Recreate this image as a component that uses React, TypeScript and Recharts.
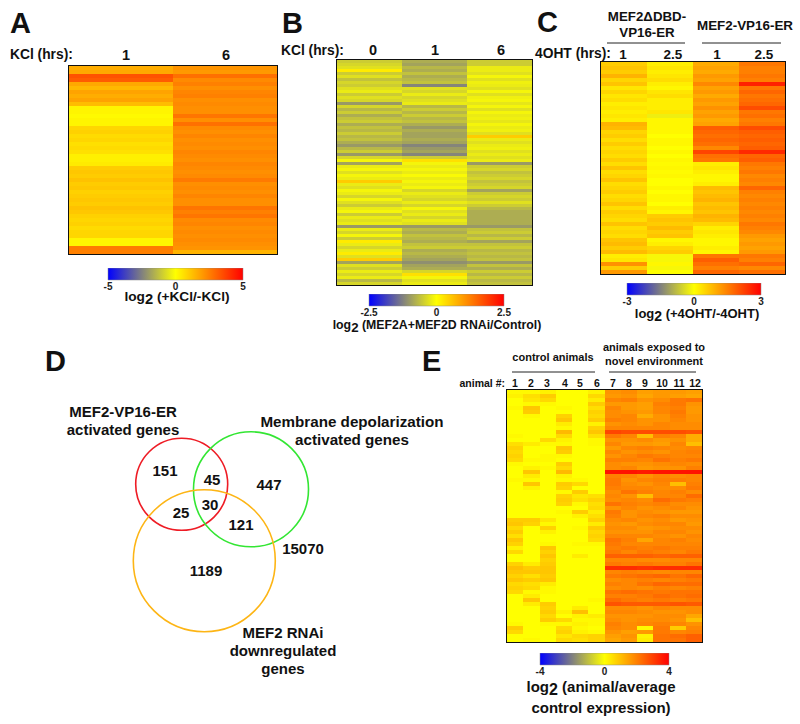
import React from "react"
import { Bar, BarChart, Cell, Scatter, ScatterChart, XAxis, YAxis } from "recharts"

const FONT = "'Liberation Sans', Arial, sans-serif"

// log2 ratios, one list per heatmap row
const heatA = [
  [1.6, 2.1], [1.7, 2.0], [3.4, 2.8], [3.2, 2.3], [1.7, 2.5], [1.4, 2.2], [1.8, 2.4], [1.6, 2.5], [1.8, 2.2], [1.3, 2.3],
  [0.2, 2.2], [0.2, 2.2], [0.1, 2.7], [0.2, 2.2], [0.2, 2.8], [0.8, 2.3], [0.9, 2.2], [0.7, 2.4], [0.8, 2.2], [0.6, 2.3],
  [0.7, 2.2], [0.6, 2.4], [0.3, 2.3], [0.3, 2.2], [0.4, 2.4], [1.0, 2.3], [1.1, 2.2], [1.0, 2.3], [1.2, 2.6], [1.0, 2.2],
  [1.1, 2.3], [0.9, 2.2], [1.0, 2.4], [1.1, 2.2], [1.0, 2.2], [1.2, 2.7], [1.1, 2.5], [0.9, 2.7], [0.8, 2.3], [0.9, 2.4],
  [0.7, 2.2], [0.8, 2.3], [0.8, 2.2], [0.2, 2.3], [0.2, 2.2], [2.6, 2.1], [2.5, 1.5],
]

const heatB = [
  [-0.5, -0.8, -0.5], [-0.4, -0.9, -0.5], [-0.3, -0.7, -0.2], [0.2, -0.8, -0.2], [-0.5, -0.6, -0.3], [-0.3, -0.8, -0.1], [-0.6, -0.7, -0.3], [-0.4, -0.6, -0.15], [-0.5, -1.2, -0.2], [-0.3, -0.3, -0.3],
  [-0.2, -0.4, -0.1], [-0.5, -0.2, -0.3], [-0.3, -0.4, -0.15], [-0.4, -0.3, -0.1], [-1.0, -0.2, -0.25], [-0.4, -0.7, -0.1], [-0.7, -0.5, -0.3], [-0.5, -0.7, -0.1], [-0.8, -0.5, -0.2], [-0.6, -0.7, -0.15],
  [-0.5, -0.6, -0.25], [-0.8, -0.8, -0.1], [-0.6, -1.0, -0.2], [-0.7, -0.8, -0.15], [-0.5, -0.9, -0.3], [-0.7, -0.9, 0.5], [-0.6, -0.8, -0.2], [-0.8, -0.9, -0.3], [-1.0, -1.2, -0.2], [-0.7, -1.0, -0.15],
  [-0.5, -0.9, -0.3], [-1.0, -1.2, -0.2], [-0.4, -0.5, -0.3], [-0.1, 0.3, -0.2], [-0.9, -0.1, -1.0], [-0.2, -0.2, -0.5], [-0.1, -0.1, -0.4], [-0.3, -0.2, -0.6], [-0.1, -0.05, -0.5], [-0.2, -0.2, -0.4],
  [0.5, -0.1, -0.6], [-0.2, -0.2, -0.5], [-0.3, -0.1, -0.4], [-0.1, -0.4, -0.9], [-0.2, -0.2, -0.5], [-0.4, -0.3, -0.4], [-0.1, -0.4, -0.5], [-0.3, -0.2, -0.3], [-0.5, -0.4, -0.5], [-0.2, -0.1, -0.7],
  [-0.1, -0.3, -0.8], [-0.5, -0.2, -0.8], [-0.2, -0.4, -0.8], [-0.3, -0.2, -0.8], [-0.2, -0.3, -0.8], [-1.0, -1.0, -1.0], [-0.2, -0.7, -0.6], [-0.4, -0.8, -0.5], [-0.1, -0.6, -0.7], [-0.5, -0.7, -0.5],
  [0.2, -0.8, -0.9], [-0.2, -0.6, -0.6], [-0.4, -0.5, -0.5], [-0.2, -0.8, -0.7], [0.2, -0.7, -0.6], [-0.3, -0.8, -0.7], [0.5, -0.9, -0.6], [-0.9, -1.1, -1.0], [-0.3, -0.9, -0.6], [-0.5, -0.8, -0.8],
  [-0.2, -0.4, -0.5], [-0.4, 0.3, -0.7], [-0.2, -0.1, -0.5], [-0.7, -0.3, -0.7], [-0.4, -0.2, -0.6],
]

const heatC = [
  [0.6, 0.2, 1.0, 1.6], [0.7, 0.3, 1.1, 1.5], [0.6, 0.2, 1.0, 1.5], [0.9, 0.3, 1.2, 1.6], [0.5, 0.4, 1.1, 1.5],
  [0.7, 0.2, 1.4, 2.6], [0.3, 0.1, 1.1, 1.6], [0.5, 0.3, 1.2, 1.8], [0.3, 0.4, 1.0, 1.6], [0.4, 0.2, 1.2, 1.7],
  [0.2, 0.2, 1.1, 1.8], [0.3, 0.2, 1.3, 2.1], [0.2, 0.3, 1.1, 1.6], [0.3, -0.2, 1.2, 1.7], [0.2, 0.1, 1.0, 1.5],
  [0.9, 0.1, 1.1, 1.6], [0.8, 0.1, 1.9, 2.1], [0.5, 0.1, 1.8, 1.9], [0.6, 0.0, 1.7, 1.8], [0.4, 0.1, 1.8, 1.9],
  [0.6, 0.1, 1.7, 1.8], [0.4, 0.0, 1.4, 1.9], [0.5, 0.1, 2.2, 2.5], [0.4, 0.0, 1.7, 1.8], [0.6, 0.1, 1.6, 1.9],
  [0.4, 0.05, 0.2, 1.6], [0.7, 0.1, 0.3, 1.5], [0.4, 0.05, 0.2, 1.6], [0.5, 0.1, 0.1, 1.4], [0.7, 0.0, 0.1, 1.5],
  [0.4, 0.0, 0.2, 1.4], [0.5, 0.1, 0.8, 1.8], [0.6, 0.0, 0.7, 1.5], [0.4, 0.1, 0.8, 1.4], [0.5, 0.1, 0.9, 1.5],
  [0.7, 0.0, 0.7, 1.4], [0.4, 0.2, 0.8, 1.5], [0.6, 0.1, 0.7, 1.4], [0.5, 0.6, 0.9, 1.5], [0.4, 0.7, 0.8, 1.4],
  [0.7, 0.6, 0.5, 1.6], [0.4, 0.8, 0.2, 1.5], [0.5, 0.6, 0.3, 1.4], [0.4, 0.7, 0.2, 1.2], [0.7, 0.1, 0.1, 1.1],
  [0.8, 0.2, 0.1, 1.2], [0.6, 0.5, 0.2, 1.1], [0.8, 0.6, 0.1, 1.2], [0.2, -0.1, 1.6, 1.6],
  [0.3, -0.1, 1.9, 1.5], [1.3, 0.1, 1.7, 1.8], [0.6, -0.1, 1.5, 1.4], [1.2, 0.0, 1.8, 1.7],
]

const heatE = [
  [0.1, 0.1, 0.2, 0.0, 0.0, 0.2, 1.7, 1.8, 1.5, 1.6, 1.6, 1.5],
  [0.2, 0.5, 0.8, 0.0, 0.0, 0.6, 1.6, 1.7, 1.4, 1.6, 1.5, 1.4],
  [0.0, 0.4, 0.6, 0.0, 0.0, 0.3, 1.9, 2.0, 1.7, 1.8, 2.1, 2.2],
  [0.0, 0.1, 0.1, 0.0, 0.0, 0.8, 1.6, 1.6, 1.5, 2.0, 2.1, 1.7],
  [0.1, 0.9, 0.0, 0.1, 0.0, 0.5, 1.9, 1.6, 1.5, 1.9, 2.0, 1.6],
  [0.0, 0.8, 0.0, 0.0, 0.0, 0.7, 1.8, 1.7, 1.6, 1.9, 2.1, 1.6],
  [0.0, 0.1, 0.0, 0.7, 0.0, 0.6, 1.8, 1.9, 1.3, 1.7, 2.0, 1.7],
  [0.0, 0.0, 0.0, 0.9, 0.0, 0.8, 2.0, 1.9, 1.7, 1.7, 1.9, 1.7],
  [0.0, 0.0, 0.0, 0.3, 0.0, 0.2, 1.7, 1.8, 1.7, 1.9, 1.8, 1.8],
  [0.0, 0.0, 0.0, 0.1, 0.0, 0.7, 1.9, 1.9, 1.9, 1.9, 1.8, 1.8],
  [0.0, 0.0, 0.0, 1.1, 0.0, 0.9, 2.9, 2.8, 2.8, 2.8, 2.8, 2.7],
  [0.1, 0.0, 0.0, 0.6, 0.0, 0.5, 2.1, 1.9, 1.0, 2.0, 1.9, 1.3],
  [0.0, 0.0, 0.6, 0.2, 0.0, 0.1, 1.7, 1.7, 1.8, 1.6, 1.7, 1.3],
  [0.5, 0.3, 0.1, 0.1, 0.0, 0.1, 1.9, 1.6, 1.6, 1.5, 1.9, 1.0],
  [0.7, 0.0, 0.0, 0.9, 0.0, 0.0, 1.6, 1.9, 2.0, 1.9, 1.8, 1.9],
  [0.6, 0.0, 0.0, 0.8, 0.0, 0.0, 1.9, 1.7, 1.8, 1.7, 1.9, 2.0],
  [0.7, 0.0, 0.1, 0.1, 0.0, 0.0, 1.7, 1.9, 2.1, 2.0, 1.9, 1.9],
  [0.6, 0.1, 0.1, 0.0, 0.0, 0.0, 2.0, 2.0, 1.9, 2.2, 2.0, 2.1],
  [0.1, 0.0, 0.0, 0.8, 0.0, 0.0, 1.8, 1.7, 1.7, 1.8, 1.9, 1.8],
  [0.0, 0.2, 0.1, 0.6, 0.0, 0.0, 1.8, 1.9, 1.6, 1.7, 1.7, 2.0],
  [0.0, 0.9, 0.0, 1.1, 0.0, 0.0, 3.7, 3.7, 3.6, 3.7, 3.7, 3.7],
  [0.0, 0.3, 0.0, 0.2, 0.0, 0.0, 2.0, 1.9, 1.7, 1.9, 1.8, 1.9],
  [0.1, 0.1, 0.0, 0.1, 0.1, 0.0, 2.1, 1.7, 1.9, 2.0, 2.0, 1.9],
  [0.0, 0.9, 0.0, 0.8, 0.6, 0.0, 2.1, 1.8, 1.7, 1.9, 1.0, 2.0],
  [0.0, 0.2, 0.0, 0.7, 0.0, 0.0, 2.0, 1.9, 1.9, 1.8, 1.8, 2.1],
  [0.0, 0.0, 0.0, 0.1, 0.8, 0.0, 1.8, 2.2, 2.0, 1.9, 2.0, 1.8],
  [0.0, 0.0, 0.0, 0.7, 0.4, 0.5, 1.9, 1.7, 1.0, 1.9, 1.9, 2.3],
  [0.0, 0.0, 0.0, 0.8, 0.5, 0.7, 1.8, 1.9, 1.8, 2.3, 2.1, 2.0],
  [0.0, 0.0, 0.0, 0.7, 0.1, 0.5, 2.2, 2.0, 1.9, 2.0, 1.8, 1.8],
  [0.0, 0.0, 0.0, 0.0, 0.0, 0.6, 1.7, 1.9, 1.7, 1.8, 1.9, 1.7],
  [0.0, 0.0, 0.0, 0.1, 0.8, 0.3, 2.1, 1.7, 1.8, 1.7, 1.6, 1.6],
  [0.0, 0.0, 0.0, 0.0, 0.2, 0.5, 2.0, 1.7, 1.9, 2.0, 1.8, 1.8],
  [0.8, 0.8, 0.4, 0.0, 0.0, 0.7, 1.8, 1.9, 1.7, 1.8, 1.6, 1.7],
  [0.9, 0.7, 0.1, 0.0, 0.0, 0.3, 1.7, 1.6, 1.8, 1.9, 1.9, 1.6],
  [0.6, 0.0, 0.7, 0.0, 0.1, 0.8, 1.8, 1.8, 1.6, 1.7, 1.8, 1.8],
  [0.8, 0.0, 0.2, 0.0, 0.0, 0.6, 1.7, 1.7, 1.7, 1.9, 1.9, 1.7],
  [0.5, 0.0, 0.0, 0.0, 0.0, 0.7, 1.9, 1.9, 1.9, 1.8, 1.7, 1.9],
  [0.9, 0.0, 0.0, 0.0, 0.0, 0.6, 2.2, 2.0, 1.4, 1.9, 2.0, 1.8],
  [0.7, 0.0, 0.1, 0.0, 0.1, 0.1, 2.1, 1.9, 1.9, 1.9, 1.9, 1.9],
  [0.2, 0.0, 0.9, 0.0, 0.0, 0.0, 2.0, 2.1, 2.0, 2.1, 2.0, 2.0],
  [0.6, 0.0, 0.7, 0.0, 0.0, 0.0, 2.1, 1.9, 2.1, 2.0, 1.9, 2.1],
  [0.0, 0.0, 0.9, 0.0, 0.3, 0.0, 2.5, 2.5, 2.5, 2.4, 2.5, 2.5],
  [0.0, 0.0, 0.7, 0.0, 0.0, 0.0, 1.9, 1.9, 1.8, 1.8, 1.9, 1.9],
  [0.7, 0.3, 0.8, 0.0, 0.0, 0.0, 2.1, 2.0, 2.1, 2.0, 2.0, 2.2],
  [1.0, 0.8, 0.9, 0.0, 0.0, 0.0, 3.3, 3.3, 3.2, 3.3, 3.3, 3.3],
  [0.9, 0.9, 0.9, 0.0, 0.0, 0.0, 1.9, 2.0, 1.9, 1.8, 1.9, 1.9],
  [0.7, 0.5, 0.8, 0.0, 0.0, 0.0, 2.1, 2.2, 2.3, 2.4, 2.2, 2.4],
  [0.9, 0.8, 0.9, 0.0, 0.0, 0.0, 1.8, 1.9, 2.0, 1.9, 2.0, 2.1],
  [0.6, 0.5, 0.3, 0.0, 0.0, 0.0, 2.0, 1.9, 2.2, 2.4, 2.3, 2.3],
  [0.7, 0.6, 0.1, 0.0, 0.0, 0.0, 1.8, 1.9, 1.8, 2.0, 1.9, 2.0],
  [0.6, 0.1, 0.1, 0.0, 0.0, 0.0, 2.2, 2.3, 2.2, 2.1, 2.2, 2.2],
  [0.0, 0.3, 0.0, 0.0, 0.0, 0.0, 2.0, 2.0, 2.1, 2.3, 2.2, 2.3],
  [0.0, 0.9, 0.0, 0.0, 0.0, 0.1, 2.3, 2.1, 2.0, 2.1, 2.0, 2.1],
  [0.0, 0.3, 0.8, 0.0, 0.0, 0.0, 2.7, 2.6, 2.6, 2.6, 2.7, 2.6],
  [0.0, 0.0, 0.7, 0.0, 0.3, 0.0, 1.8, 1.8, 1.7, 1.9, 1.8, 1.8],
  [0.0, 0.0, 0.8, 0.2, 1.0, 0.0, 1.9, 1.9, 1.8, 1.7, 1.7, 1.8],
  [0.0, 0.0, 0.6, 0.0, 0.2, 0.3, 1.7, 1.7, 1.7, 1.8, 1.8, 1.4],
  [0.0, 0.0, 0.8, 0.6, 0.1, 0.1, 1.8, 1.7, 1.8, 1.8, 1.7, 1.0],
  [0.1, 0.0, 0.1, 0.1, 0.2, 0.1, 2.0, 1.8, 1.9, 2.0, 1.9, 1.7],
  [0.8, 0.0, 0.0, 0.6, 0.1, 0.0, 1.9, 1.8, 0.1, 2.1, 0.8, 1.9],
  [0.6, 0.0, 0.0, 0.7, 0.2, 0.1, 1.7, 1.5, 1.6, 2.1, 1.9, 2.0],
  [0.0, 0.0, 0.0, 0.4, 0.6, 0.7, 1.5, 1.7, 0.2, 2.2, 2.3, 2.5],
  [0.0, 0.1, 0.0, 0.6, 0.5, 0.7, 1.4, 1.6, 0.3, 2.2, 2.2, 2.5],
]

const hoursA = ["1", "6"]
const hoursB = ["0", "1", "6"]
const hoursC = ["1", "2.5", "1", "2.5"]
const animalIds = ["1", "2", "3", "4", "5", "6", "7", "8", "9", "10", "11", "12"]

// venn circles, on the same 800x724 grid as the page
const vennColors = ["#ee1c25", "#33e633", "#fdb515"]
const vennX = [181.7, 251, 204.3]
const vennY = [484.3, 489.3, 560.7]
const vennR = [46, 57.5, 71]

const countLabels = ["151", "45", "447", "30", "25", "121", "15070", "1189"]
const countX = [165, 212, 269, 210, 181, 241, 303, 206]
const countY = [476, 485, 490, 510, 518, 530, 554, 576]

const circles = vennX.map((x, i) => ({ x, y: vennY[i], r: vennR[i], color: vennColors[i] }))
const counts = countLabels.map((label, i) => ({ x: countX[i], y: countY[i], label }))

function heatColor(t: number) {
  const v = Math.max(-1, Math.min(1, t))
  if (v >= 0) return `rgb(255,${Math.round(255 * (1 - v))},0)`
  const a = 1 + v
  return `rgb(${Math.round(255 * a)},${Math.round(255 * a)},${Math.round(255 * (1 - a))})`
}

function Heatmap({ rows, limit, left, top, width, rowHeight }: any) {
  const cols = rows[0].map((_: number, j: number) => `c${j}`)
  const table = rows.map((r: number[], i: number) => {
    const row: any = { row: i }
    r.forEach((_, j) => (row[`c${j}`] = 1))
    return row
  })
  const height = rows.length * rowHeight
  return (
    <div style={{ position: "absolute", left, top, width, height }}>
      {/* the source is a soft scan, a slight blur keeps the stripes from looking too hard */}
      <div style={{ filter: "blur(0.6px)", width, height, overflow: "hidden" }}>
        <BarChart
          width={width}
          height={height}
          data={table}
          layout="vertical"
          barCategoryGap={0}
          margin={{ top: 0, right: 0, bottom: 0, left: 0 }}
        >
          <XAxis type="number" hide domain={[0, cols.length]} />
          <YAxis type="category" dataKey="row" hide />
          {cols.map((key: string, j: number) => (
            <Bar key={key} dataKey={key} stackId="heat" isAnimationActive={false}>
              {rows.map((r: number[], i: number) => (
                <Cell key={i} fill={heatColor(r[j] / limit)} shapeRendering="crispEdges" />
              ))}
            </Bar>
          ))}
        </BarChart>
      </div>
      <div
        style={{
          position: "absolute",
          left: -1.5,
          top: -1.5,
          width,
          height,
          border: "1.5px solid #111",
        }}
      />
    </div>
  )
}

function ColorBar({ id, limit, left, top, width }: any) {
  const pad = 14
  return (
    <div style={{ position: "absolute", left: left - pad, top }}>
      <BarChart
        width={width + pad * 2}
        height={26}
        data={[{ range: [-limit, limit] }]}
        layout="vertical"
        barCategoryGap={0}
        margin={{ top: 0, right: pad, bottom: 0, left: pad }}
      >
        <defs>
          <linearGradient id={id} x1="0" y1="0" x2="1" y2="0">
            <stop offset="0%" stopColor="#0000ff" />
            <stop offset="25%" stopColor="#808080" />
            <stop offset="50%" stopColor="#ffff00" />
            <stop offset="100%" stopColor="#ff0000" />
          </linearGradient>
        </defs>
        <XAxis
          type="number"
          domain={[-limit, limit]}
          ticks={[-limit, 0, limit]}
          height={14}
          axisLine={false}
          tickLine={false}
          tickMargin={-3}
          interval={0}
          tick={{ fontSize: 10, fontWeight: 700, fill: "#222", fontFamily: FONT }}
        />
        <YAxis type="category" hide />
        <Bar dataKey="range" fill={`url(#${id})`} stroke="#888" strokeWidth={0.5} isAnimationActive={false} />
      </BarChart>
    </div>
  )
}

function Venn() {
  return (
    <div style={{ position: "absolute", left: 0, top: 0 }}>
      <ScatterChart width={800} height={724} margin={{ top: 0, right: 0, bottom: 0, left: 0 }}>
        <XAxis type="number" dataKey="x" domain={[0, 800]} hide />
        <YAxis type="number" dataKey="y" domain={[0, 724]} reversed hide />
        <Scatter
          data={circles}
          isAnimationActive={false}
          shape={(p: any) => (
            <circle cx={p.cx} cy={p.cy} r={p.payload.r} fill="none" stroke={p.payload.color} strokeWidth={1.6} />
          )}
        />
        <Scatter
          data={counts}
          isAnimationActive={false}
          shape={(p: any) => (
            <text x={p.cx} y={p.cy} textAnchor="middle" fontSize={15} fontWeight={700} fontFamily={FONT} fill="#111">
              {p.payload.label}
            </text>
          )}
        />
      </ScatterChart>
    </div>
  )
}

function T({ x, y, size = 13, anchor = "middle", children }: any) {
  return (
    <text x={x} y={y} fontSize={size} fontWeight={700} textAnchor={anchor} fontFamily={FONT} fill="#111">
      {children}
    </text>
  )
}

function Log2({ x, y, size, text }: any) {
  return (
    <T x={x} y={y} size={size}>
      log
      <tspan fontSize={size + 1} dy={3}>2</tspan>
      <tspan dy={-3}> {text}</tspan>
    </T>
  )
}

function Labels() {
  const aX = [126, 226]
  const bX = [373, 435, 501]
  const cX = [623, 673, 717, 764]
  const eX = [515, 531, 547, 565, 580, 597, 613, 629, 645, 662, 679, 695]
  return (
    <svg width={800} height={724} style={{ position: "absolute", left: 0, top: 0 }}>
      <T x={10} y={33} size={29} anchor="start">A</T>
      <T x={282} y={33} size={29} anchor="start">B</T>
      <T x={537} y={32} size={29} anchor="start">C</T>
      <T x={45} y={371} size={29} anchor="start">D</T>
      <T x={422} y={371} size={29} anchor="start">E</T>

      <T x={10} y={59} size={13.8} anchor="start">KCl (hrs):</T>
      {hoursA.map((h, i) => <T key={i} x={aX[i]} y={60} size={14.5}>{h}</T>)}
      <Log2 x={177} y={301} size={13.7} text="(+KCl/-KCl)" />

      <T x={281} y={55} size={13.8} anchor="start">KCl (hrs):</T>
      {hoursB.map((h, i) => <T key={i} x={bX[i]} y={55} size={14.5}>{h}</T>)}
      <Log2 x={437} y={329} size={12.3} text="(MEF2A+MEF2D RNAi/Control)" />

      <T x={647} y={21} size={13.3}>MEF2ΔDBD-</T>
      <T x={647} y={37} size={13.3}>VP16-ER</T>
      <T x={745} y={30} size={13.4}>MEF2-VP16-ER</T>
      <line x1={607} x2={685} y1={43} y2={43} stroke="#222" strokeWidth={1} />
      <line x1={702} x2={781} y1={43} y2={43} stroke="#222" strokeWidth={1} />
      <T x={535} y={58} size={13.8} anchor="start">4OHT (hrs):</T>
      {hoursC.map((h, i) => <T key={i} x={cX[i]} y={59} size={13.5}>{h}</T>)}
      <Log2 x={697} y={318} size={13} text="(+4OHT/-4OHT)" />

      <T x={123} y={417} size={15}>MEF2-VP16-ER</T>
      <T x={123} y={435} size={15}>activated genes</T>
      <T x={352} y={427} size={15.2}>Membrane depolarization</T>
      <T x={352} y={445} size={15.2}>activated genes</T>
      <T x={283} y={638} size={15}>MEF2 RNAi</T>
      <T x={283} y={656} size={15}>downregulated</T>
      <T x={283} y={674} size={15}>genes</T>

      <T x={553} y={361} size={11}>control animals</T>
      <T x={654} y={351} size={11}>animals exposed to</T>
      <T x={654} y={365} size={11}>novel environment</T>
      <line x1={512} x2={595} y1={372} y2={372} stroke="#222" strokeWidth={1} />
      <line x1={609} x2={696} y1={372} y2={372} stroke="#222" strokeWidth={1} />
      <T x={505} y={387} size={10.5} anchor="end">animal #:</T>
      {animalIds.map((h, i) => <T key={i} x={eX[i]} y={387} size={10.5}>{h}</T>)}
      <Log2 x={601} y={692} size={15} text="(animal/average" />
      <T x={601} y={713} size={15}>control expression)</T>
    </svg>
  )
}

export default function App() {
  return (
    <div style={{ position: "absolute", left: 0, top: 0, width: 800, height: 724, background: "#fff", overflow: "hidden" }}>
      <Heatmap rows={heatA} limit={5} left={69} top={66} width={208} rowHeight={4} />
      <ColorBar id="barA" limit={5} left={108} top={268} width={135} />

      <Heatmap rows={heatB} limit={2.5} left={337} top={60} width={195} rowHeight={3} />
      <ColorBar id="barB" limit={2.5} left={369} top={294} width={135} />

      <Heatmap rows={heatC} limit={3} left={601} top={62} width={184} rowHeight={4} />
      <ColorBar id="barC" limit={3} left={627} top={283} width={134} />

      <Heatmap rows={heatE} limit={4} left={507} top={390} width={195} rowHeight={4} />
      <ColorBar id="barE" limit={4} left={540} top={653} width={129} />

      <Venn />
      <Labels />
    </div>
  )
}
